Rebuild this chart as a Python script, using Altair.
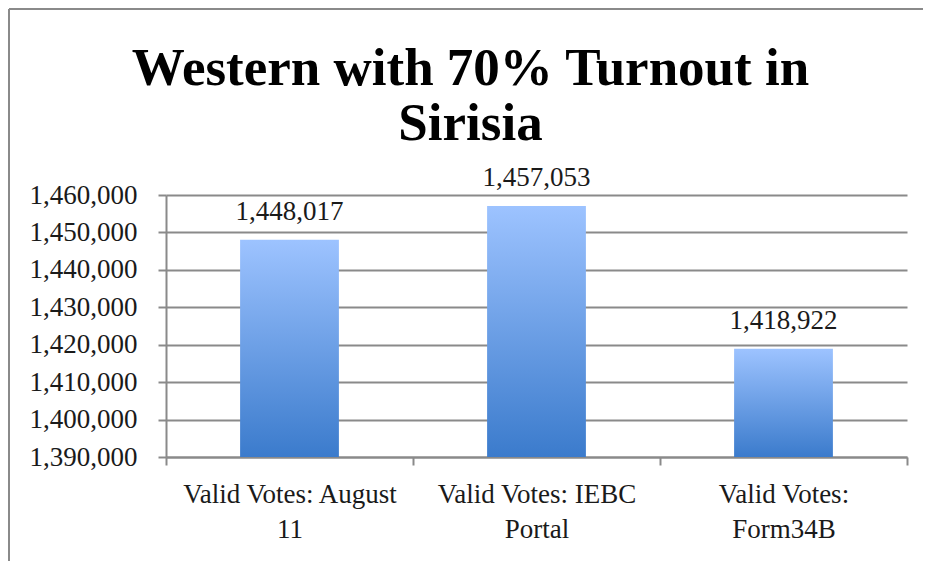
import json
import altair as alt
import pandas as pd

categories = ["Valid Votes: August 11", "Valid Votes: IEBC Portal", "Valid Votes: Form34B"]
label_lines = [["Valid Votes: August", "11"], ["Valid Votes: IEBC", "Portal"], ["Valid Votes:", "Form34B"]]
values = [1448017, 1457053, 1418922]
y_min, y_max, y_step = 1390000, 1460000, 10000
y_ticks = list(range(y_min, y_max + 1, y_step))
title_lines = ["Western with 70% Turnout in", "Sirisia"]

df = pd.DataFrame({"category": categories, "votes": values})

expr = "datum.label"
for cat, lines in reversed(list(zip(categories, label_lines))):
    expr = f"datum.value == {json.dumps(cat)} ? {json.dumps(lines)} : ({expr})"

FONT = "Liberation Serif"
GRAY = "#8a8a8a"
TXT = "#1a1a1a"

x = alt.X(
    "category:N",
    sort=categories,
    scale=alt.Scale(paddingInner=0, paddingOuter=0),
    axis=alt.Axis(
        title=None, labelAngle=0, tickBand="extent", labelExpr=expr,
        labelFont=FONT, labelFontSize=27, labelLineHeight=35, labelPadding=16,
        labelColor=TXT, labelLimit=0, tickSize=8, tickColor=GRAY, tickWidth=2,
        domainColor=GRAY, domainWidth=2, grid=False,
    ),
)
y = alt.Y(
    "votes:Q",
    scale=alt.Scale(domain=[y_min, y_max], zero=False, nice=False),
    axis=alt.Axis(
        title=None, values=y_ticks, format=",", labelExpr="format(datum.value, ',')",
        labelOverlap=False,
        labelFont=FONT, labelFontSize=27, labelPadding=21, labelColor=TXT,
        tickSize=8, tickColor=GRAY, tickWidth=2,
        domainColor=GRAY, domainWidth=2,
        grid=True, gridColor=GRAY, gridWidth=2,
    ),
)

base = alt.Chart(df)

bars = base.mark_bar(
    width={"band": 0.4},
    color=alt.Gradient(
        gradient="linear",
        stops=[alt.GradientStop(color="#9dc3ff", offset=0),
               alt.GradientStop(color="#3b7bcc", offset=1)],
        x1=0, x2=0, y1=0, y2=1,
    ),
).encode(x=x, y=y, y2=alt.datum(y_min))

labels = base.mark_text(
    dy=-20, baseline="alphabetic", font=FONT, fontSize=27, color=TXT
).encode(x=x, y=y, text=alt.Text("votes:Q", format=","))

frame_df = pd.DataFrame({"k": [0]})
frame_left = alt.Chart(frame_df).mark_rule(color=GRAY, strokeWidth=2).encode(
    x=alt.value(-157), y=alt.value(-186), y2=alt.value(400)
)
frame_top = alt.Chart(frame_df).mark_rule(color=GRAY, strokeWidth=2).encode(
    x=alt.value(-157), x2=alt.value(780), y=alt.value(-186)
)

chart = alt.layer(bars, labels, frame_left, frame_top).properties(
    width=741,
    height=262,
    padding={"left": 158, "top": 187, "right": 16, "bottom": 104},
    autosize=alt.AutoSizeParams(type="none"),
    background="white",
    title=alt.TitleParams(
        text=title_lines, font=FONT, fontSize=53, fontWeight="bold",
        anchor="middle", frame="group", dx=-66, offset=-143, lineHeight=55,
        color="black",
    ),
).configure_view(stroke=None)

chart.save("out.html", embed_options={"renderer": "svg", "actions": False})
